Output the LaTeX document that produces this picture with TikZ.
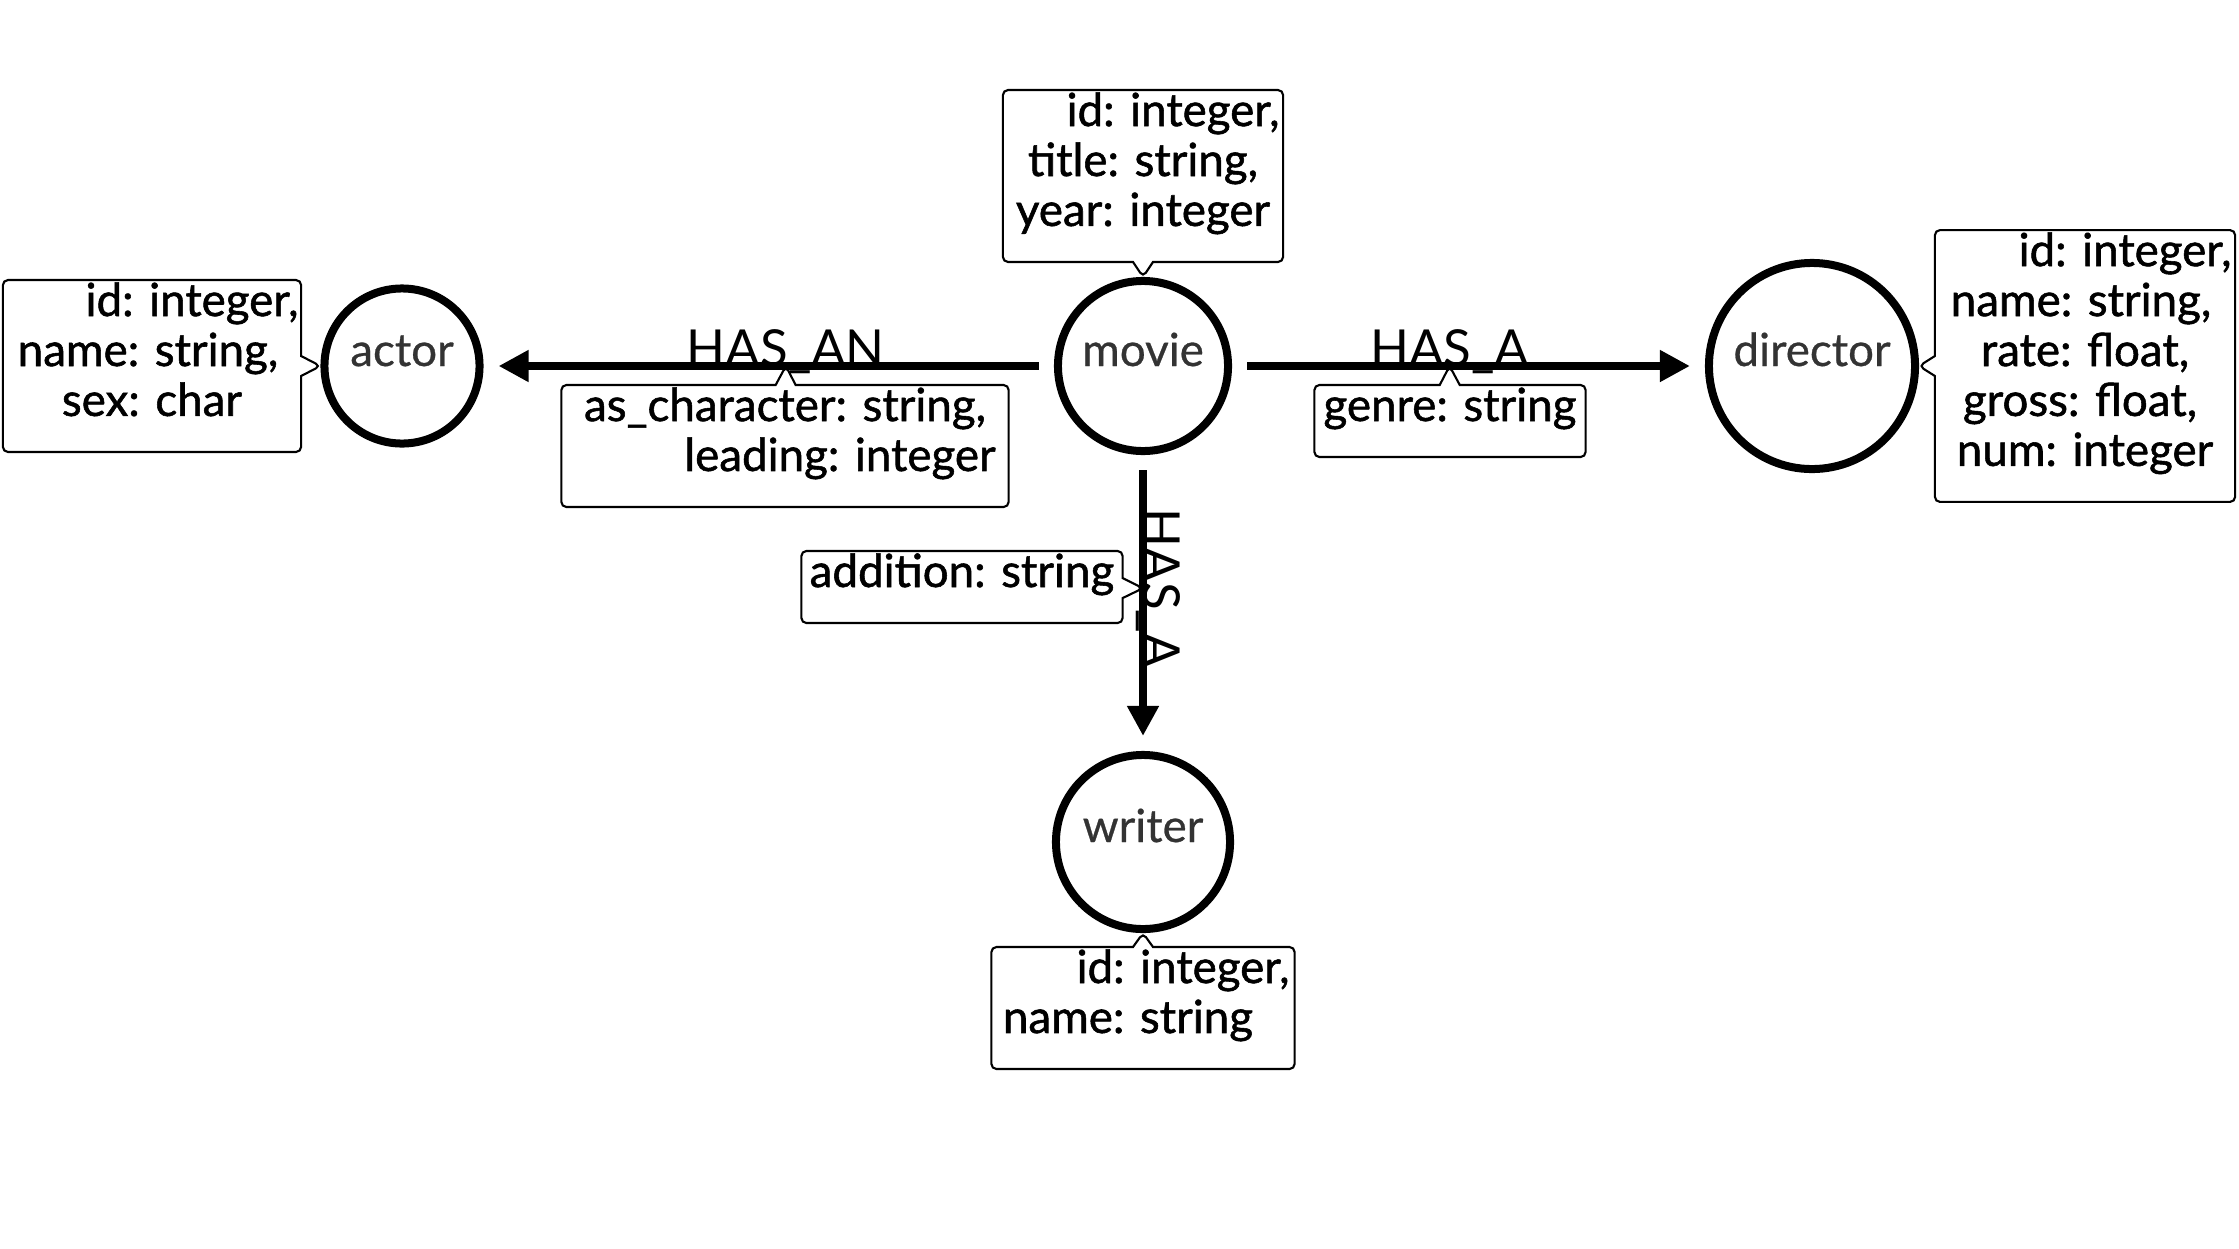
\documentclass[tikz,border=0pt]{standalone}
\usepackage{fontspec}
\setmainfont{Lato}
\newfontfamily\propfont{Lato}[FakeBold=1.2]
\newfontfamily\entfont{Lato}[FakeBold=0.6]
\usepackage{tikz}
\usetikzlibrary{arrows.meta}
\usetikzlibrary{shapes.callouts}
\usetikzlibrary{positioning}
\tikzstyle{entity}=[circle,draw=black,line width=0.08cm,text=black!80,font=\entfont\fontsize{13}{15}\selectfont,text height=0.25cm,text depth=0.25cm,inner sep=0pt]
\tikzstyle{rel} = [draw,line width=0.08cm,-{Triangle[length=0.3cm,width=0.3cm]},shorten >=0.15cm,shorten <=0.15cm]
\tikzstyle{rellabel} = [font=\fontsize{14.5}{16}\selectfont,anchor=base,inner sep=0pt]
\tikzset{props/.style={rectangle callout,draw,line width=0.6pt,rounded corners=0.05cm,align=center,font=\propfont\fontsize{13}{14.2}\selectfont,inner xsep=0pt,inner ysep=0.02cm,callout pointer width=0.2cm}}
\newcommand{\tstr}{\rule{0pt}{0.34cm}}
\newcommand{\bstr}{\rule[-0.34cm]{0pt}{0pt}}
\newcommand{\nudge}[2]{\hspace*{#1}#2\hspace*{-#1}}

\begin{document}
\begin{tikzpicture}[x=0.01cm,y=-0.01cm]

    \useasboundingbox (0,0) rectangle (2239,1248);
    \def\cy{366}

%entities
    \foreach \pos/\name/\size in {{(1143,\cy)/movie/1.70cm}, {(402,\cy)/actor/1.55cm}, {(1812,\cy)/director/2.06cm}, {(1143,842)/writer/1.74cm}}
        \node[entity,minimum size=\size] (\name) at \pos {\name};

%relations
    \foreach \source/\dest/\label/\p/\ang in {movie/actor/HAS\_AN/0.47/0, movie/director/HAS\_A/0.46/0, movie/writer/HAS\_A/0.45/-90}
        \path[rel] (\source) -- node[rellabel,pos=\p,rotate=\ang] {\label} coordinate[pos=\p] (\dest-link) (\dest);

%properties
    \foreach \pos/\name/\ptr/\boxw/\label in {
        {(1143,176)/movieprops/movie.north/2.80cm/{\tstr\nudge{0.3cm}{id: integer,}\\title: string,\\year: integer\bstr}},
        {(152,\cy)/actorprops/actor.west/2.98cm/{\tstr\nudge{0.4cm}{id: integer,}\\\nudge{-0.08cm}{name: string,}\\sex: char\bstr}},
        {(2085,\cy)/directorprops/director.east/3.00cm/{\tstr\nudge{0.4cm}{id: integer,}\\\nudge{-0.08cm}{name: string,}\\rate: float,\\\nudge{-0.1cm}{gross: float,}\\num: integer\bstr}},
        {(1143,1008)/writerprops/writer.south/3.03cm/{\tstr\nudge{0.4cm}{id: integer,}\\\nudge{-0.15cm}{name: string}\bstr}},
        {(785,446)/actorlinkprops/actor-link/4.47cm/{\tstr as\_character: string,\\\nudge{0.55cm}{leading: integer}\bstr}},
        {(1450,421)/directorlinkprops/director-link/2.71cm/{\tstr genre: string\bstr}},
        {(962,587)/writerlinkprops/writer-link/3.21cm/{\tstr addition: string\bstr}}}
        \node[props,minimum width=\boxw,callout absolute pointer=(\ptr)] (\name) at \pos {\label};

\end{tikzpicture}
\end{document}
